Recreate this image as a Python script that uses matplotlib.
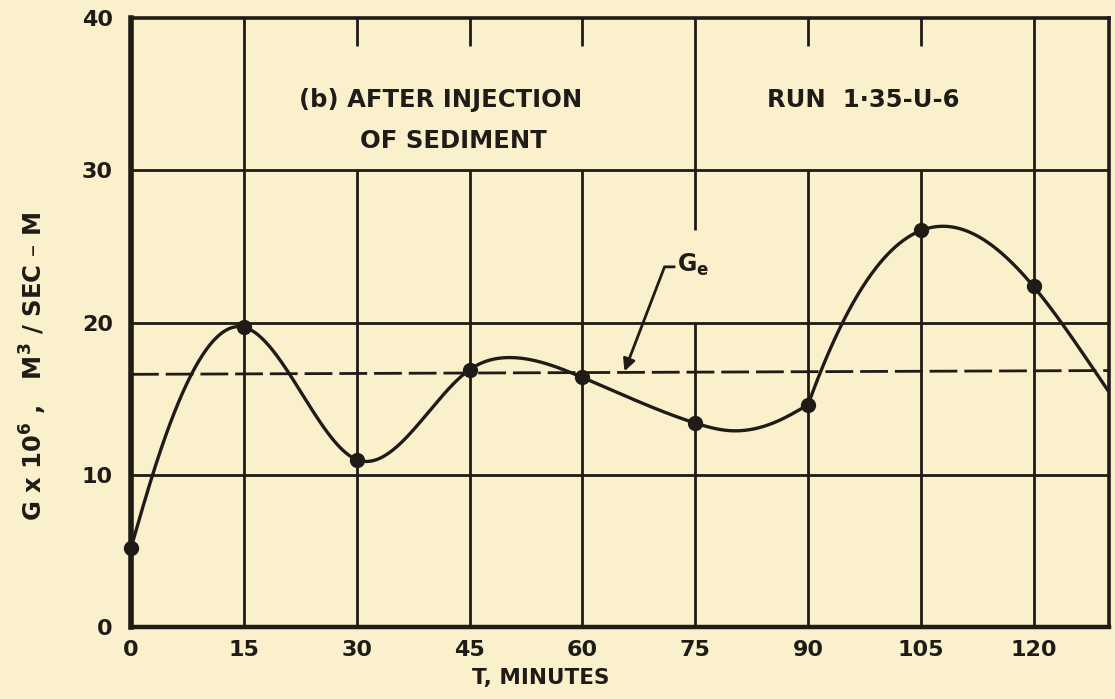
import numpy as np
import matplotlib
matplotlib.use("Agg")
import matplotlib.pyplot as plt

# ---- data ----
t_min = [0, 15, 30, 45, 60, 75, 90, 105, 120]
g_val = [5.2, 19.7, 11.0, 16.9, 16.4, 13.4, 14.6, 26.1, 22.4]
# points (two pieces, joined at the kink at T=90)
curve1_t = [0, 3, 15, 30, 45, 50, 60, 75, 79.6, 86.3, 90]
curve1_g = [5.2, 10.2, 19.7, 11.0, 16.9, 17.7, 16.4, 13.4, 12.9, 13.6, 14.6]
curve2_t = [90, 91.6, 95.2, 100, 105, 110.7, 115.2, 120, 123.6, 130]
curve2_g = [14.6, 16.7, 20.0, 24.3, 26.1, 25.4, 24.4, 22.4, 20.0, 15.4]
ge_t = [0, 130]
ge_g = [16.6, 16.85]
x_ticks = [0, 15, 30, 45, 60, 75, 90, 105, 120]
y_ticks = [0, 10, 20, 30, 40]

INK = '#1f1b17'
PAPER = '#faf0cb'
plt.rcParams['font.family'] = ['DejaVu Sans']
plt.rcParams['mathtext.fontset'] = 'dejavusans'


def natural_spline(x, y, xs):
    x = np.asarray(x, float); y = np.asarray(y, float)
    n = len(x)
    h = np.diff(x)
    A = np.zeros((n, n)); b = np.zeros(n)
    A[0, 0] = 1; A[-1, -1] = 1
    for i in range(1, n - 1):
        A[i, i - 1] = h[i - 1]
        A[i, i] = 2 * (h[i - 1] + h[i])
        A[i, i + 1] = h[i]
        b[i] = 6 * ((y[i + 1] - y[i]) / h[i] - (y[i] - y[i - 1]) / h[i - 1])
    M = np.linalg.solve(A, b)
    idx = np.clip(np.searchsorted(x, xs) - 1, 0, n - 2)
    x0 = x[idx]; x1 = x[idx + 1]; hh = x1 - x0
    a = (x1 - xs) / hh; c = (xs - x0) / hh
    return (a * y[idx] + c * y[idx + 1]
            + ((a ** 3 - a) * M[idx] + (c ** 3 - c) * M[idx + 1]) * hh ** 2 / 6)


def smooth_fit(x, y, xs, deg=4):
    x = np.asarray(x, float); y = np.asarray(y, float)
    w = np.where(np.isin(x, t_min), 4.0, 1.0)
    w[0] = 10.0
    c = np.polyfit(x - x.mean(), y, deg, w=w)
    return np.polyval(c, xs - x.mean())


fig = plt.figure(figsize=(11.15, 6.99), dpi=100, facecolor=PAPER)
ax = fig.add_axes([0.1175, 0.103, 0.877, 0.871])
ax.set_facecolor(PAPER)
ax.set_xlim(0, 130)
ax.set_ylim(0, 40)

# grid
glw = 2.0
for y in y_ticks[1:-1]:
    ax.hlines(y, 0, 130, color=INK, lw=glw, zorder=1)
for x in x_ticks[1:]:
    if x in (15, 120):
        ax.vlines(x, 0, 40, color=INK, lw=glw, zorder=1)
    elif x == 75:
        ax.vlines(x, 0, 20, color=INK, lw=glw, zorder=1)
        ax.vlines(x, 26.1, 40, color=INK, lw=glw, zorder=1)
    else:
        ax.vlines(x, 0, 30, color=INK, lw=glw, zorder=1)
        ax.vlines(x, 38.2, 40, color=INK, lw=glw, zorder=1)

# Ge dashed line
ax.plot(ge_t, ge_g, color=INK, lw=2.0, dashes=(10, 2.5), zorder=2)

# smooth curve
xs1 = np.linspace(curve1_t[0], curve1_t[-1], 500)
ax.plot(xs1, natural_spline(curve1_t, curve1_g, xs1), color=INK, lw=2.4,
        zorder=3, solid_capstyle='round')
xs2 = np.linspace(curve2_t[0], curve2_t[-1], 400)
ax.plot(xs2, smooth_fit(curve2_t, curve2_g, xs2), color=INK, lw=2.4,
        zorder=3, solid_capstyle='round')
ax.plot(t_min, g_val, 'o', color=INK, ms=10, zorder=4, clip_on=False)

# spines
for side, w in (('left', 4.0), ('bottom', 3.2), ('top', 2.6), ('right', 2.6)):
    ax.spines[side].set_linewidth(w)
    ax.spines[side].set_color(INK)

ax.set_xticks(x_ticks)
ax.set_yticks(y_ticks)
ax.tick_params(length=0, colors=INK, labelsize=16)
ax.tick_params(axis='x', pad=9)
ax.tick_params(axis='y', pad=13)
for lab in ax.get_xticklabels() + ax.get_yticklabels():
    lab.set_fontweight('bold')

tk = dict(color=INK, fontweight='bold', fontsize=17.5)
ax.text(22.3, 34.6, '(b) AFTER INJECTION', ha='left', va='center', **tk)
ax.text(30.5, 31.9, 'OF SEDIMENT', ha='left', va='center', **tk)
ax.text(84.5, 34.6, 'RUN  1·35-U-6', ha='left', va='center', **tk)

ax.annotate(r'$\mathbf{G_e}$', xy=(65.6, 16.8), xytext=(72.6, 23.8),
            color=INK, fontsize=17, ha='left', va='center',
            arrowprops=dict(arrowstyle='-|>', color=INK, lw=2.0,
                            mutation_scale=18, shrinkA=0, shrinkB=0,
                            connectionstyle='angle,angleA=180,angleB=69,rad=0',
                            relpos=(0, 0.42)))

fig.text(0.485, 0.03, 'T, MINUTES', ha='center', va='center',
         color=INK, fontweight='bold', fontsize=15.5)
fig.text(0.03, 0.476, r'G x 10$^{\mathbf{6}}$ ,   M$^{\mathbf{3}}$ / SEC – M',
         rotation=90, ha='center', va='center', **tk)

fig.savefig('out.png', dpi=100, facecolor=PAPER)
